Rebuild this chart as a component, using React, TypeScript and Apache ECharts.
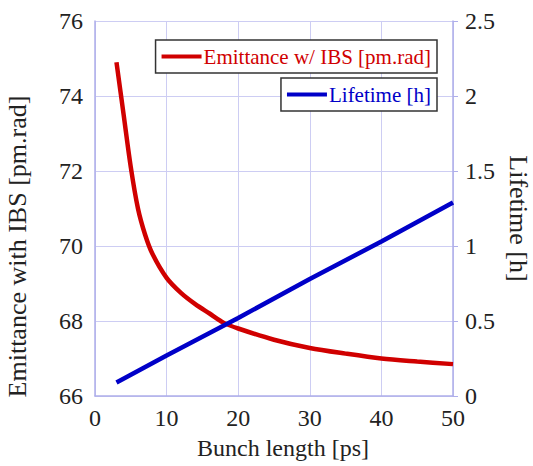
import React, { useEffect, useRef } from "react";
import * as echarts from "echarts";

// Bunch length [ps]
const bunchLength = [3, 4, 5, 6, 7, 8, 10, 12, 14, 16, 18, 20, 25, 30, 35, 40, 45, 50];
// Emittance with IBS [pm.rad]
const emittance = [74.9, 73.5, 72.1, 71.0, 70.3, 69.8, 69.15, 68.75, 68.45, 68.2, 67.95, 67.8, 67.5, 67.28, 67.13, 67.0, 66.92, 66.85];
// Lifetime [h]
const lifetimeLength = [3, 10, 20, 30, 40, 50];
const lifetime = [0.09, 0.27, 0.52, 0.78, 1.03, 1.29];

const seriesNames = ["Emittance w/ IBS [pm.rad]", "Lifetime [h]"];

const FONT = "'Liberation Serif', 'DejaVu Serif', serif";
const RED = "#d00000";
const BLUE = "#0000c8";
const AXIS = "#aeaeea";
const GRID = "#cdcdf3";

export default function App() {
  const ref = useRef<HTMLDivElement>(null);

  useEffect(() => {
    if (!ref.current) return;
    const chart = echarts.init(ref.current, undefined, { renderer: "svg" });
    const tickLabel = { fontFamily: FONT, fontSize: 24, color: "#222" };
    const legendBase = {
      orient: "horizontal",
      icon: "rect",
      itemWidth: 40,
      itemHeight: 4,
      padding: [6, 6, 6, 6],
      borderColor: "#333",
      borderWidth: 1.5,
      backgroundColor: "#fff",
    };
    chart.setOption({
      animation: false,
      backgroundColor: "#fff",
      grid: { left: 95, right: 80, top: 21, bottom: 70, containLabel: false, outerBoundsMode: "none" },
      legend: [
        {
          ...legendBase,
          data: [seriesNames[0]],
          right: 96,
          top: 40,
          textStyle: { fontFamily: FONT, fontSize: 21, color: RED, padding: [0, 0, 0, -3] },
        },
        {
          ...legendBase,
          data: [seriesNames[1]],
          right: 96,
          top: 78,
          textStyle: { fontFamily: FONT, fontSize: 21, color: BLUE, padding: [0, 0, 0, -3] },
        },
      ],
      xAxis: {
        type: "value",
        min: 0,
        max: 50,
        interval: 10,
        name: "Bunch length [ps]",
        nameLocation: "middle",
        nameGap: 40,
        nameTextStyle: { fontFamily: FONT, fontSize: 24, color: "#222", padding: [0, 0, 0, 18] },
        axisLine: { show: true, lineStyle: { color: AXIS, width: 1.5 } },
        axisTick: { show: false },
        axisLabel: { ...tickLabel, margin: 10 },
        splitLine: { show: true, lineStyle: { color: GRID, width: 1 } },
      },
      yAxis: [
        {
          type: "value",
          position: "left",
          min: 66,
          max: 76,
          interval: 2,
          name: "Emittance with IBS [pm.rad]",
          nameLocation: "middle",
          nameGap: 65,
          nameTextStyle: { fontFamily: FONT, fontSize: 26, color: "#222", padding: [0, 76, 0, 0] },
          axisLine: { show: true, lineStyle: { color: AXIS, width: 1.5 } },
          axisTick: { show: false },
          axisLabel: { ...tickLabel, margin: 12 },
          splitLine: { show: true, lineStyle: { color: GRID, width: 1 } },
        },
        {
          type: "value",
          position: "right",
          min: 0,
          max: 2.5,
          interval: 0.5,
          name: "Lifetime [h]",
          nameLocation: "middle",
          nameGap: 50,
          nameRotate: -90,
          nameTextStyle: { fontFamily: FONT, fontSize: 26, color: "#222", padding: [0, 0, 0, 20] },
          axisLine: { show: true, lineStyle: { color: AXIS, width: 1.5 } },
          axisTick: { show: true, length: 5, lineStyle: { color: AXIS } },
          axisLabel: { ...tickLabel, margin: 12 },
          splitLine: { show: false },
        },
      ],
      series: [
        {
          name: seriesNames[0],
          type: "line",
          yAxisIndex: 0,
          data: bunchLength.map((x, i) => [x, emittance[i]]),
          showSymbol: false,
          smooth: 0.3,
          lineStyle: { color: RED, width: 4.5 },
          itemStyle: { color: RED },
          z: 3,
        },
        {
          name: seriesNames[1],
          type: "line",
          yAxisIndex: 1,
          data: lifetimeLength.map((x, i) => [x, lifetime[i]]),
          showSymbol: false,
          lineStyle: { color: BLUE, width: 4.5 },
          itemStyle: { color: BLUE },
          z: 4,
        },
      ],
    });
    return () => chart.dispose();
  }, []);

  return <div ref={ref} style={{ width: 533, height: 466, position: "absolute", left: 0, top: 0 }} />;
}
